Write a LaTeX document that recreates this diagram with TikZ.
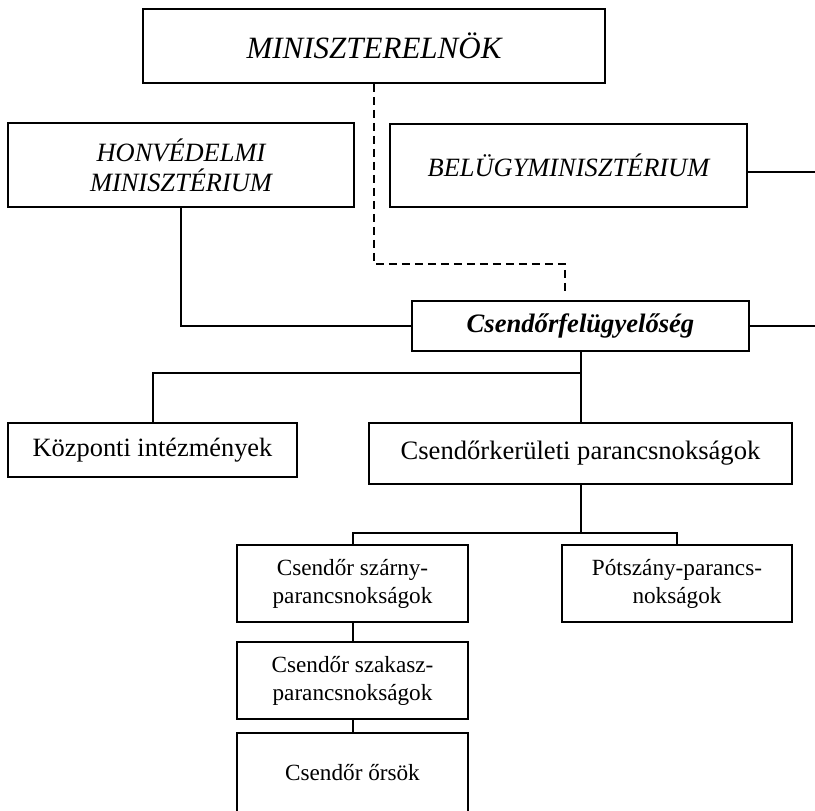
\documentclass[tikz,border=0pt]{standalone}
\usepackage{fontspec}
\setmainfont{Liberation Serif}
\begin{document}
\begin{tikzpicture}[x=0.5pt,y=-0.5pt,
    box/.style={draw,line width=0.9pt,inner sep=0pt,align=center},
    link/.style={line width=1pt},
    dashline/.style={line width=1pt,dash pattern=on 4pt off 2.5pt}]
    \useasboundingbox (0,0) rectangle (815,810);
    % top of the hierarchy
    \node[box,minimum width=231pt,minimum height=37pt,font=\fontsize{15.5}{18}\selectfont\itshape] (minister) at (374,46) {MINISZTERELNÖK};
    \node[box,minimum width=173pt,minimum height=42pt,font=\fontsize{13.2}{15}\selectfont\itshape] (honved) at (181,165) {HONVÉDELMI\\MINISZTÉRIUM};
    \node[box,minimum width=178.5pt,minimum height=41.5pt,font=\fontsize{13.2}{15}\selectfont\itshape] (belugy) at (568.5,165.5) {BELÜGYMINISZTÉRIUM};
    \node[box,minimum width=168.5pt,minimum height=25pt,font=\fontsize{13.3}{16}\selectfont\bfseries\itshape] (felugy) at (580.5,326) {Csendőrfelügyelőség};
    % second level
    \node[box,minimum width=144.5pt,minimum height=27pt,font=\fontsize{13.2}{16}\selectfont] (kozp) at (152.5,450) {Központi intézmények};
    \node[box,minimum width=211.5pt,minimum height=30.5pt,font=\fontsize{13.3}{16}\selectfont] (kerulet) at (580.5,453.5) {Csendőrkerületi parancsnokságok};
    % district units
    \node[box,minimum width=115.5pt,minimum height=38.5pt,font=\fontsize{11.6}{14}\selectfont] (szarny) at (352.5,583.5) {Csendőr szárny-\\parancsnokságok};
    \node[box,minimum width=115pt,minimum height=38.5pt,font=\fontsize{11.6}{14}\selectfont] (potszany) at (677,583.5) {Pótszány-parancs-\\nokságok};
    \node[box,minimum width=115.5pt,minimum height=38.5pt,font=\fontsize{11.6}{14}\selectfont] (szakasz) at (352.5,680.5) {Csendőr szakasz-\\parancsnokságok};
    \node[box,minimum width=115.5pt,minimum height=39.5pt,font=\fontsize{11.6}{14}\selectfont] (orsok) at (352.5,772.5) {Csendőr őrsök};
    % bends and loose ends
    \coordinate (dashbend) at (565,264);
    \coordinate (dashend) at (565,293);
    \coordinate (outB) at (815,172);
    \coordinate (outF) at (815,326);
    \coordinate (barA) at (580.5,373);
    \coordinate (barB) at (580.5,533);
    \draw[dashline] (minister.south) |- (dashbend) -- (dashend);
    \draw[link] (honved.south) |- (felugy.west);
    \draw[link] (belugy.east |- outB) -- (outB);
    \draw[link] (felugy.east) -- (outF);
    \draw[link] (felugy.south) -- (kerulet.north);
    \draw[link] (kozp.north) |- (barA);
    \draw[link] (kerulet.south) -- (barB);
    \draw[link] (szarny.north) |- (barB) -| (potszany.north);
    \draw[link] (szarny.south) -- (szakasz.north);
    \draw[link] (szakasz.south) -- (orsok.north);
\end{tikzpicture}
\end{document}
